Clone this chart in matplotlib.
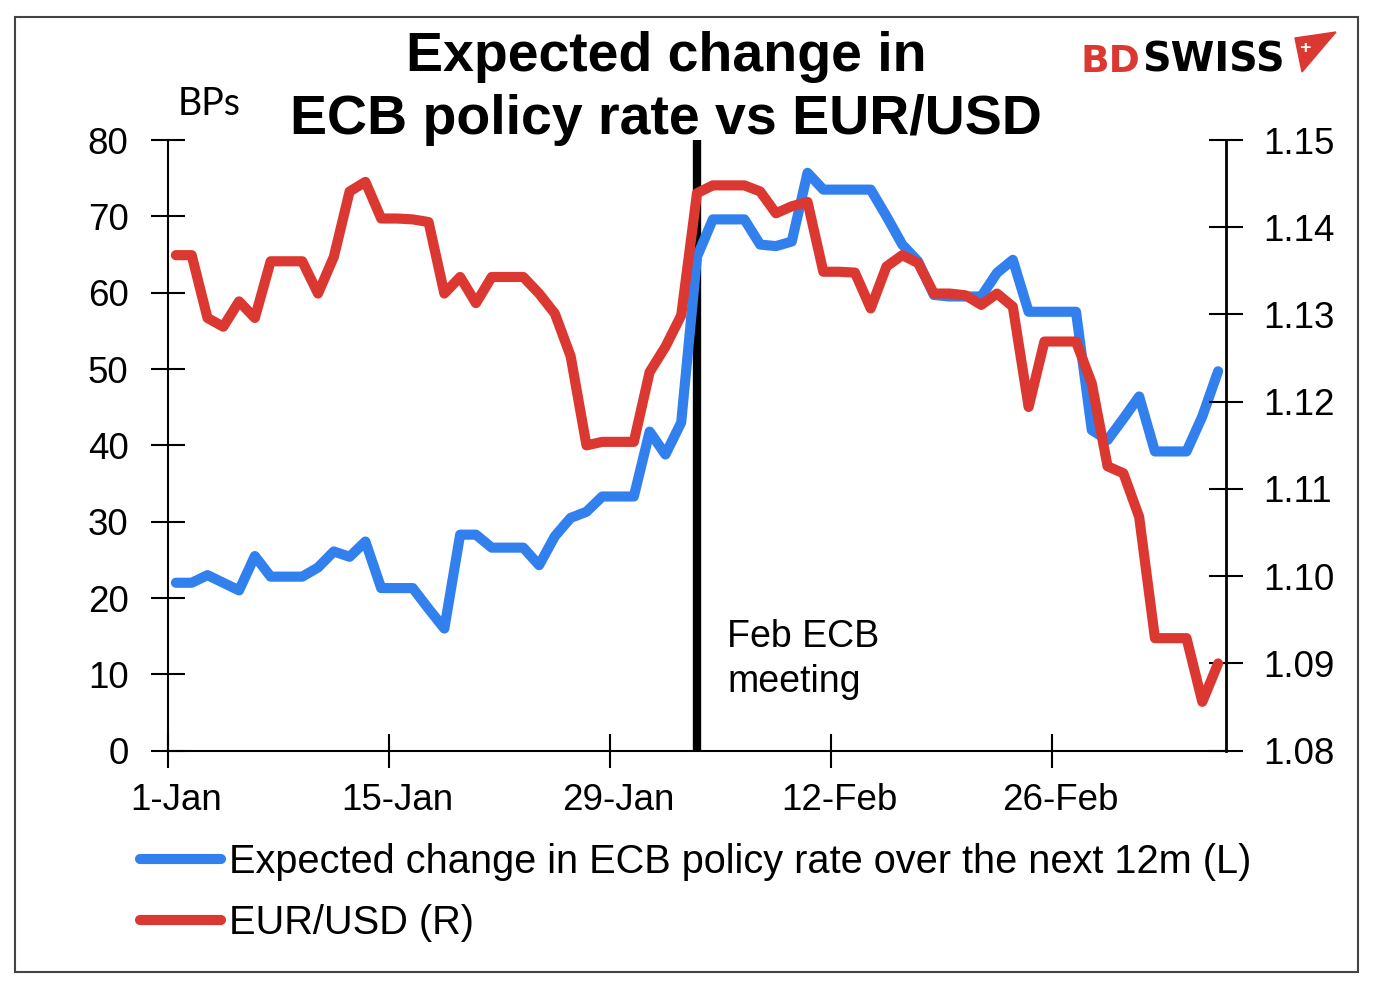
import matplotlib
matplotlib.use('Agg')
import matplotlib.pyplot as plt
import matplotlib.dates as mdates
from matplotlib.patches import Rectangle, Polygon
import numpy as np
import pandas as pd

# ---------------- data ----------------
dates = pd.date_range('2022-01-01', '2022-03-08', freq='D')

ecb_bps = [22.0, 22.0, 23.0, 22.0, 21.0, 25.5, 22.8, 22.8, 22.8, 24.0,
           26.1, 25.4, 27.4, 21.3, 21.3, 21.3, 18.6, 16.0, 28.3, 28.3,
           26.6, 26.6, 26.6, 24.3, 28.1, 30.5, 31.3, 33.3, 33.3, 33.3,
           41.8, 38.8, 43.0, 64.7, 69.6, 69.6, 69.6, 66.3, 66.1, 66.7,
           75.7, 73.5, 73.5, 73.5, 73.5, 70.0, 66.3, 64.1, 59.7, 59.5,
           59.5, 59.5, 62.6, 64.3, 57.5, 57.5, 57.5, 57.5, 42.0, 40.7,
           43.5, 46.4, 39.2, 39.2, 39.2, 43.8, 49.7]

eurusd = [1.1368, 1.1368, 1.1296, 1.1286, 1.1315, 1.1296, 1.1361, 1.1361, 1.1361, 1.1324,
          1.1366, 1.1441, 1.1452, 1.1410, 1.1410, 1.1409, 1.1406, 1.1324, 1.1343, 1.1313,
          1.1343, 1.1343, 1.1343, 1.1324, 1.1301, 1.1252, 1.1150, 1.1154, 1.1154, 1.1154,
          1.1234, 1.1263, 1.1299, 1.1439, 1.1448, 1.1448, 1.1448, 1.1441, 1.1416, 1.1424,
          1.1429, 1.1349, 1.1349, 1.1348, 1.1307, 1.1355, 1.1368, 1.1359, 1.1324, 1.1324,
          1.1322, 1.1311, 1.1324, 1.1309, 1.1194, 1.1269, 1.1269, 1.1269, 1.1221, 1.1126,
          1.1118, 1.1068, 1.0929, 1.0929, 1.0929, 1.0856, 1.0900]

tick_dates = pd.to_datetime(['2022-01-01', '2022-01-15', '2022-01-29', '2022-02-12', '2022-02-26'])
tick_labels = ['1-Jan', '15-Jan', '29-Jan', '12-Feb', '26-Feb']
left_ticks = [0, 10, 20, 30, 40, 50, 60, 70, 80]
right_ticks = [1.08, 1.09, 1.10, 1.11, 1.12, 1.13, 1.14, 1.15]
meeting_date = pd.Timestamp('2022-02-03')

series_labels = ['Expected change in ECB policy rate over the next 12m (L)', 'EUR/USD (R)']

# ---------------- style ----------------
BLUE = '#3180EE'
RED = '#DB3832'
FONT = ['Liberation Sans', 'DejaVu Sans']
plt.rcParams['font.family'] = FONT

W, H = 1382, 992
def fx(px):
    return px / W
def fy(py):
    return 1 - py / H

fig = plt.figure(figsize=(W / 100, H / 100), dpi=100)
ax = fig.add_axes([fx(168), fy(750.7), (1226 - 168) / W, (750.7 - 140) / H])
ax2 = ax.twinx()

xn = mdates.date2num(dates)
ax.axvline(meeting_date, color='black', lw=6, zorder=2)
l1, = ax.plot(dates, ecb_bps, color=BLUE, lw=7.3, solid_joinstyle='round',
              solid_capstyle='round', zorder=3)
l2, = ax2.plot(dates, eurusd, color=RED, lw=7.3, solid_joinstyle='round',
               solid_capstyle='round', zorder=3)

ax.set_xlim(xn[0] - 0.5, xn[-1] + 0.5)
ax.set_ylim(0, 80)
ax2.set_ylim(1.08, 1.15)

tn = mdates.date2num(tick_dates)
ax.set_xticks(tn - 0.5, labels=[''] * len(tn))
ax.set_xticks(tn, labels=tick_labels, minor=True)
ax.tick_params(axis='x', which='major', direction='inout', length=24, width=1.5)
ax.tick_params(axis='x', which='minor', length=0, pad=23, labelsize=26.5)

ax.set_yticks(left_ticks)
ax.set_yticklabels([str(v) for v in left_ticks])
ax.tick_params(axis='y', direction='inout', length=25, width=1.5, pad=16, labelsize=26.5)
ax2.set_yticks(right_ticks)
ax2.set_yticklabels([f'{v:.2f}' for v in right_ticks])
ax2.tick_params(axis='y', direction='inout', length=25, width=1.5, pad=14, labelsize=26.5)

for a in (ax, ax2):
    a.spines['top'].set_visible(False)
ax.spines['right'].set_visible(False)
ax2.spines['left'].set_visible(False)
ax2.spines['bottom'].set_visible(False)
ax.spines['left'].set_linewidth(1.5)
ax.spines['bottom'].set_linewidth(1.5)
ax2.spines['right'].set_linewidth(2)

# titles / annotations
fig.text(fx(666), fy(57), 'Expected change in', ha='center', va='center',
         fontsize=40, fontweight='bold')
fig.text(fx(666), fy(120), 'ECB policy rate vs EUR/USD', ha='center', va='center',
         fontsize=40, fontweight='bold')
fig.text(fx(178), fy(115), 'BPs', ha='left', va='baseline', fontsize=27,
         family=['Lato', 'DejaVu Sans'])
fig.text(fx(727), fy(647), 'Feb ECB', ha='left', va='baseline', fontsize=27)
fig.text(fx(727), fy(692), 'meeting', ha='left', va='baseline', fontsize=27)

# legend
fig.legend(handles=[l1, l2], labels=series_labels, loc='upper left',
           bbox_to_anchor=(fx(140), fy(843)), frameon=False, fontsize=28.6,
           handlelength=2.05, handletextpad=0.2, labelspacing=0.58,
           borderpad=0, borderaxespad=0)

# logo
fig.text(fx(1080), fy(72), 'BD', color=RED, fontweight='bold', fontsize=27,
         va='baseline', ha='left', family=['DejaVu Sans'])
fig.text(fx(1142), fy(72), 'SWISS', color='black', fontweight='bold', fontsize=28.5,
         va='baseline', ha='left', family=['DejaVu Sans'])
fig.patches.append(Polygon([(fx(1295), fy(38)), (fx(1336), fy(32)), (fx(1302), fy(72))],
                           closed=True, transform=fig.transFigure, color=RED))
fig.text(fx(1305), fy(48), '+', color='white', fontweight='bold', fontsize=14,
         ha='center', va='center')

# outer border
fig.patches.append(Rectangle((fx(15), fy(972)), (1358 - 15) / W, (972 - 17) / H,
                             transform=fig.transFigure, fill=False, ec='#444444', lw=1.5))

fig.savefig('out.png', dpi=100)
